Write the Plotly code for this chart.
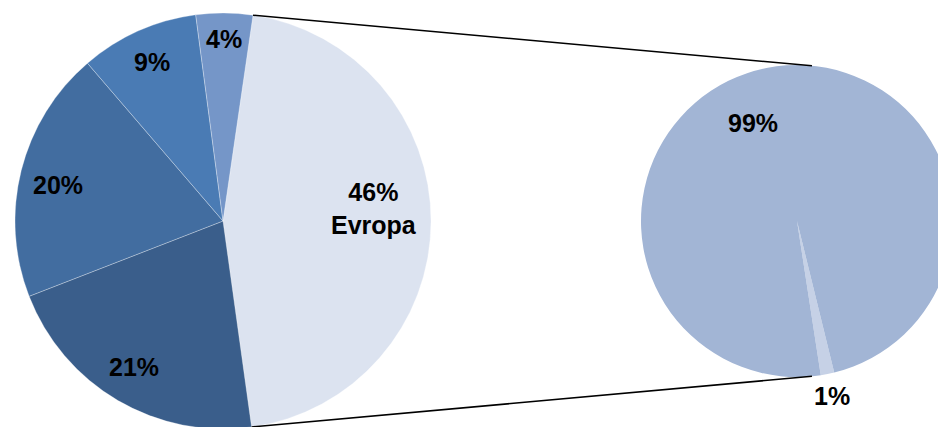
import math
import plotly.graph_objects as go

# ---- data ----
main_labels = ["Evropa", "Ostalo 1", "Ostalo 2", "Ostalo 3", "Ostalo 4"]
main_values = [45.5, 21.3, 19.6, 9.2, 4.4]
main_text = ["46%<br>Evropa", "21%", "20%", "9%", "4%"]

sub_labels = ["Ostalo", "Evropa glavno"]
sub_values = [1.4, 98.6]
sub_text = ["1%", "99%"]

# ---- styles / geometry ----
W, H = 960, 430
main_colors = ["#DCE3F0", "#3A5E8B", "#426DA0", "#4A7BB4", "#7596C8"]
sub_colors = ["#C6D1E6", "#A2B5D5"]
main_rot = 8.3
sub_rot = 166.2
mcx, mcy, mr = 223, 221, 208
scx, scy, sr = 797, 221, 156
main_lab_r = [0.73, 0.824, 0.814, 0.84, 0.875]
main_lab_da = [-5, 1, -1.8, 0, 0]
sub_lab_r = [1.146, 0.69]
sub_lab_da = [0, -13]
sub_conn_angles = [5.5, 174.5]

def px(x):
    return x / W

def py(y):
    return (H - y) / H

fig = go.Figure()
fig.add_trace(go.Pie(
    labels=main_labels, values=main_values, sort=False, direction="clockwise",
    rotation=main_rot, textinfo="none", hoverinfo="label+percent",
    marker=dict(colors=main_colors, line=dict(width=0.6, color="rgba(255,255,255,0.5)")),
    domain=dict(x=[px(mcx - mr), px(mcx + mr)], y=[py(mcy + mr), py(mcy - mr)]),
    showlegend=False,
))
fig.add_trace(go.Pie(
    labels=sub_labels, values=sub_values, sort=False, direction="clockwise",
    rotation=sub_rot, textinfo="none", hoverinfo="label+percent",
    marker=dict(colors=sub_colors, line=dict(width=0)),
    domain=dict(x=[px(scx - sr), px(scx + sr)], y=[py(scy + sr), py(scy - sr)]),
    showlegend=False,
))

def slice_angles(values, rot):
    tot = sum(values)
    a = rot
    out = []
    for v in values:
        span = 360 * v / tot
        out.append((a, a + span))
        a += span
    return out

def pt(cx, cy, r, ang):
    t = math.radians(ang)
    return cx + r * math.sin(t), cy - r * math.cos(t)

annotations = []
font = dict(family="Arial, Liberation Sans, sans-serif", size=25, color="black")
for (a0, a1), txt, rf, da in zip(slice_angles(main_values, main_rot), main_text, main_lab_r, main_lab_da):
    x, y = pt(mcx, mcy, mr * rf, (a0 + a1) / 2 + da)
    annotations.append(dict(x=px(x), y=py(y), xref="paper", yref="paper", text="<b>%s</b>" % txt,
                            showarrow=False, xanchor="center", yanchor="middle", font=font))
for (a0, a1), txt, rf, da in zip(slice_angles(sub_values, sub_rot), sub_text, sub_lab_r, sub_lab_da):
    x, y = pt(scx, scy, sr * rf, (a0 + a1) / 2 + da)
    annotations.append(dict(x=px(x), y=py(y), xref="paper", yref="paper", text="<b>%s</b>" % txt,
                            showarrow=False, xanchor="center", yanchor="middle", font=font))

ev0, ev1 = slice_angles(main_values, main_rot)[0]
shapes = []
for ma, sa in [(ev0, sub_conn_angles[0]), (ev1, sub_conn_angles[1])]:
    x0, y0 = pt(mcx, mcy, mr, ma)
    x1, y1 = pt(scx, scy, sr, sa)
    shapes.append(dict(type="line", xref="paper", yref="paper", x0=px(x0), y0=py(y0),
                       x1=px(x1), y1=py(y1), line=dict(color="black", width=1.5)))

fig.update_layout(width=W, height=H, autosize=False, margin=dict(l=0, r=0, t=0, b=0),
                  paper_bgcolor="white", plot_bgcolor="white",
                  annotations=annotations, shapes=shapes)

fig.write_html("out.html", config={"displayModeBar": False},
               post_script="document.body.style.margin='0';document.body.style.overflow='hidden';document.documentElement.style.overflow='hidden';")
